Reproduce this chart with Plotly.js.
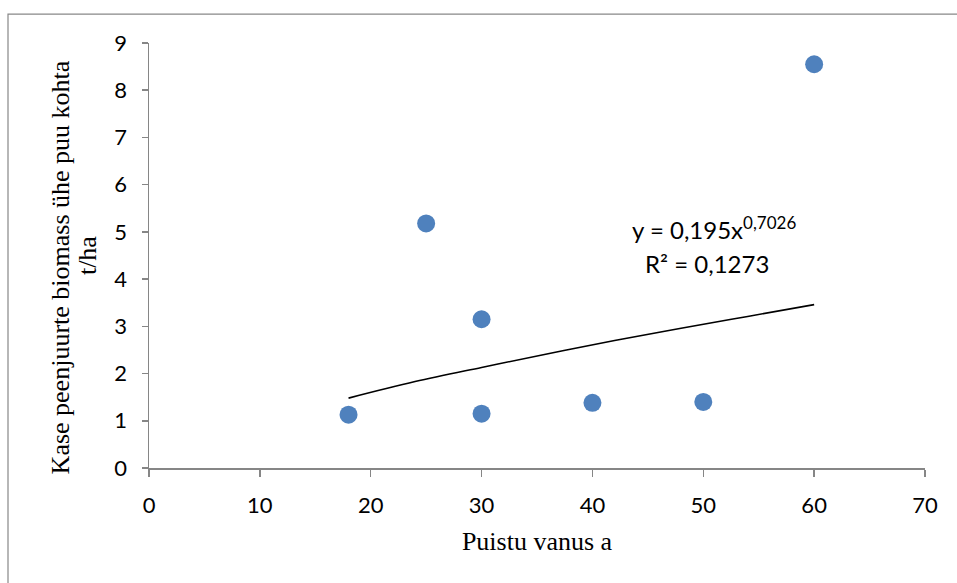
<!DOCTYPE html>
<html>
<head>
<meta charset="utf-8">
<script src="https://cdn.plot.ly/plotly-3.0.1.min.js"></script>
<style>html,body{margin:0;padding:0;background:#fff;}</style>
</head>
<body>
<div id="chart" style="width:957px;height:583px;"></div>
<script>
// Observed data
const ages = [18, 25, 30, 30, 40, 50, 60];
const biomass = [1.13, 5.18, 3.15, 1.15, 1.38, 1.40, 8.55];
// Power trendline
const trendX = [18, 24, 30, 36, 42, 48, 54, 60];
const trendY = [1.48, 1.83, 2.13, 2.42, 2.70, 2.96, 3.21, 3.46];
const xTicks = [0, 10, 20, 30, 40, 50, 60, 70];
const yTicks = [0, 1, 2, 3, 4, 5, 6, 7, 8, 9];
const yTitleLines = ['Kase peenjuurte biomass ühe puu kohta', 't/ha'];

const tickFont = {family: 'Lato, "Open Sans", sans-serif', size: 22, color: '#000'};
const annFont = {family: 'Lato, "Open Sans", sans-serif', size: 24, color: '#000'};
const titleFont = {family: '"Liberation Serif", "Times New Roman", serif', size: 26, color: '#000'};

const data = [
  {x: trendX, y: trendY, mode: 'lines', type: 'scatter', line: {color: '#000', width: 1.6, shape: 'spline'}, hoverinfo: 'skip', showlegend: false},
  {x: ages, y: biomass, mode: 'markers', type: 'scatter', marker: {color: '#4F81BD', size: 18}, showlegend: false}
];

const layout = {
  width: 957, height: 583,
  margin: {l: 149, r: 32, t: 43, b: 115},
  paper_bgcolor: '#fff', plot_bgcolor: '#fff',
  showlegend: false,
  xaxis: {
    range: [0, 70], tickvals: xTicks, ticktext: xTicks.map(String),
    showgrid: false, zeroline: false, showline: true, linecolor: '#868686', linewidth: 1.5,
    ticks: 'outside', ticklen: 7, tickcolor: '#868686', tickwidth: 1.5,
    ticklabelstandoff: 10,
    tickfont: tickFont, fixedrange: true,
    title: {text: 'Puistu vanus a', font: titleFont, standoff: 15}
  },
  yaxis: {
    range: [0, 9], tickvals: yTicks, ticktext: yTicks.map(String),
    showgrid: false, zeroline: false, showline: true, linecolor: '#868686', linewidth: 1.5,
    ticks: 'outside', ticklen: 6, tickcolor: '#868686', tickwidth: 1.5,
    ticklabelstandoff: 10,
    tickfont: tickFont, fixedrange: true
  },
  annotations: [
    {xref: 'paper', yref: 'paper', x: -0.1147, y: 0.472, text: yTitleLines[0], textangle: -90, showarrow: false, xanchor: 'center', yanchor: 'middle', font: titleFont},
    {xref: 'paper', yref: 'paper', x: -0.0799, y: 0.501, text: yTitleLines[1], textangle: -90, showarrow: false, xanchor: 'center', yanchor: 'middle', font: titleFont},
    {xref: 'x', yref: 'y', x: 43.4, y: 5.08, text: 'y = 0,195x<sup><span style="font-size:17px">0,7026</span></sup>', showarrow: false, xanchor: 'left', font: annFont},
    {xref: 'x', yref: 'y', x: 50.3, y: 4.34, text: 'R² = 0,1273', showarrow: false, xanchor: 'center', font: annFont}
  ],
  shapes: [
    {type: 'rect', xref: 'paper', yref: 'paper', x0: -0.1817, x1: 1.2, y0: -0.5, y1: 1.068, line: {color: '#888', width: 1.2}, fillcolor: 'rgba(0,0,0,0)', layer: 'below'}
  ]
};

Plotly.newPlot('chart', data, layout, {displayModeBar: false, staticPlot: true});
</script>
</body>
</html>
